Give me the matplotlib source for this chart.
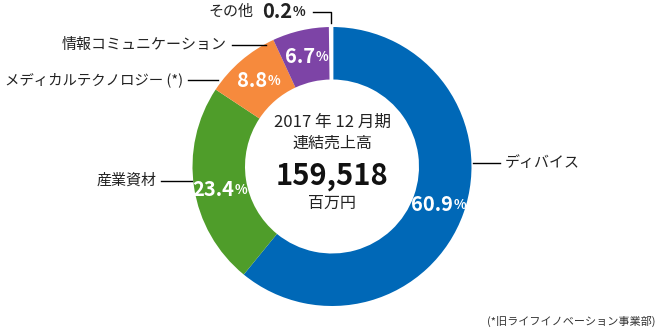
import matplotlib
matplotlib.use("Agg")
import matplotlib.pyplot as plt
import numpy as np

plt.rcParams['font.family'] = ['Noto Sans CJK JP', 'DejaVu Sans']

# ---- data ----
categories = ["ディバイス", "産業資材", "メディカルテクノロジー (*)", "情報コミュニケーション", "その他"]
shares = [60.9, 23.4, 8.8, 6.7, 0.2]
share_labels = ["60.9", "23.4", "8.8", "6.7", "0.2"]
colors = ["#0068b7", "#4f9d2a", "#f68a3d", "#7d44a6", "#ffffff"]
center_lines = ["2017 年 12 月期", "連結売上高", "159,518", "百万円"]
footnote = "(*旧ライフイノベーション事業部)"

W, H = 661, 329
fig = plt.figure(figsize=(W / 100, H / 100), dpi=100)
ax = fig.add_axes([0, 0, 1, 1])

def Y(y):
    return H - y

cx, cy = 332, Y(166.5)
R_out, R_in = 139.5, 87.0
width = R_out - R_in

wedges, _ = ax.pie(shares, colors=colors, startangle=90, counterclock=False,
                   radius=R_out, center=(cx, cy),
                   wedgeprops=dict(width=width, linewidth=0))
# white gap for the tiny slice
wedges[-1].set_edgecolor("white")
wedges[-1].set_linewidth(2.0)

ax.set_xlim(0, W)
ax.set_ylim(0, H)
ax.set_aspect('equal')
ax.axis('off')

renderer = fig.canvas.get_renderer()

def pct_label(x, y, num, color, num_size=14.5, pct_size=9.5, anchor="center"):
    """Number + small % sign; anchor='center' centres the pair on x."""
    t1 = ax.text(0, y, num, color=color, fontsize=num_size, fontweight="bold",
                 ha="left", va="center")
    t2 = ax.text(0, y - 0.5, "%", color=color, fontsize=pct_size, fontweight="bold",
                 ha="left", va="center")
    w1 = t1.get_window_extent(renderer).width
    w2 = t2.get_window_extent(renderer).width
    gap = 0.5
    if anchor == "center":
        x0 = x - (w1 + gap + w2) / 2
    else:  # left
        x0 = x
    t1.set_x(x0)
    t2.set_x(x0 + w1 + gap)

# percentage labels inside the ring
r_mid = (R_out + R_in) / 2
nudge_y = [0, -6, 0, 0, 0]
cum = 0.0
for i, (v, lab) in enumerate(zip(shares, share_labels)):
    mid = np.deg2rad(90 - 360 * (cum + v / 2) / 100)
    cum += v
    if i == len(shares) - 1:
        continue
    x = cx + r_mid * np.cos(mid)
    y = cy + r_mid * np.sin(mid) + nudge_y[i]
    pct_label(x, y, lab, "white")

# leader lines and category labels
lw = 1.0
fs = 10.8
tc = "#222222"
# ディバイス
ax.plot([473, 500], [Y(163), Y(163)], color="black", lw=lw)
ax.text(505, Y(163), categories[0], fontsize=fs, ha="left", va="center", color=tc)
# 産業資材
ax.plot([161, 192], [Y(181), Y(181)], color="black", lw=lw)
ax.text(157, Y(181), categories[1], fontsize=fs, ha="right", va="center", color=tc)
# メディカルテクノロジー
ax.plot([188, 218], [Y(80), Y(80)], color="black", lw=lw)
ax.text(183, Y(80), categories[2], fontsize=10.4, ha="right", va="center", color=tc)
# 情報コミュニケーション
ax.plot([232, 266], [Y(45), Y(45)], color="black", lw=lw)
ax.text(227, Y(45), categories[3], fontsize=fs, ha="right", va="center", color=tc)
# その他
ax.plot([313, 330.5, 330.5], [Y(12), Y(12), Y(23)], color="black", lw=lw)
ax.text(253, Y(12), categories[4], fontsize=fs, ha="right", va="center", color=tc)
pct_label(262, Y(12), share_labels[4], tc, anchor="left")

# center text
ax.text(cx, Y(122), center_lines[0], fontsize=12, ha="center", va="center", color=tc)
ax.text(cx, Y(143), center_lines[1], fontsize=11.5, ha="center", va="center", color=tc)
ax.text(cx, Y(176), center_lines[2], fontsize=21, fontweight="bold", ha="center", va="center", color="#111111")
ax.text(cx, Y(203), center_lines[3], fontsize=11.5, ha="center", va="center", color=tc)

# footnote
ax.text(655, Y(321), footnote, fontsize=8, ha="right", va="center", color="#333333")

fig.savefig("out.png", dpi=100)
